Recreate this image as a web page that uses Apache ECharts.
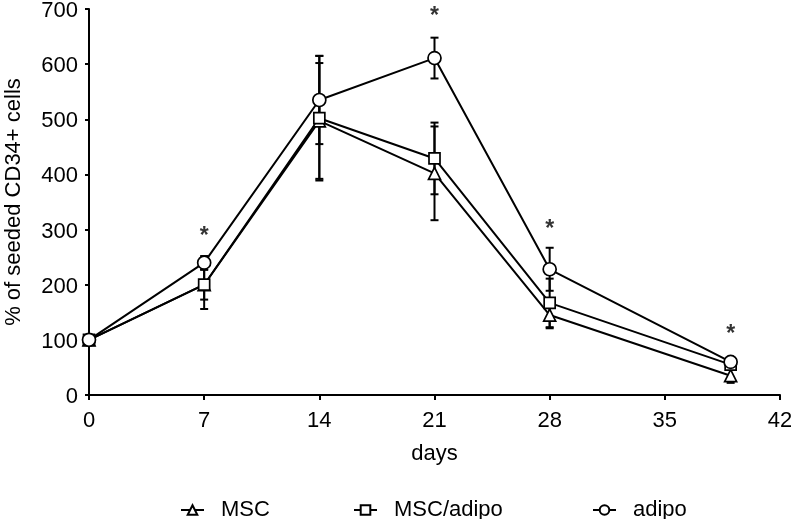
<!DOCTYPE html>
<html>
<head>
<meta charset="utf-8">
<script src="https://cdn.jsdelivr.net/npm/echarts@6/dist/echarts.min.js"></script>
<style>html,body{margin:0;padding:0;background:#fff}#c{width:791px;height:519px}</style>
</head>
<body>
<div id="c"></div>
<script>
const days = [0, 7, 14, 21, 28, 39];
const mscMean = [100, 200, 497, 402, 145, 35];
const mscErr = [0, 44, 105, 85, 24, 13];
const mscAdipoMean = [100, 200, 502, 429, 167, 55];
const mscAdipoErr = [0, 27, 113, 65, 44, 8];
const adipoMean = [100, 240, 535, 611, 228, 60];
const adipoErr = [0, 12, 80, 37, 39, 5];
const starDays = [7, 21, 28, 39];
const starValues = [288, 686, 299, 110];
const xTicks = [0, 7, 14, 21, 28, 35, 42];
const yTicks = [0, 100, 200, 300, 400, 500, 600, 700];

const FONT = 'Liberation Sans';
const FS = 22;
const chart = echarts.init(document.getElementById('c'), null, {renderer: 'canvas'});

function pairs(xs, ys) { return xs.map((x, i) => [x, ys[i]]); }
function errData(means, errs) { return days.map((d, i) => [d, means[i], errs[i]]); }

function errSeries(name, means, errs) {
  return {
    type: 'custom',
    name: name + ' err',
    z: 1,
    silent: true,
    data: errData(means, errs),
    renderItem: function (params, api) {
      const x = api.value(0), m = api.value(1), e = api.value(2);
      if (!e) return null;
      const top = api.coord([x, m + e]);
      const bot = api.coord([x, m - e]);
      const hw = 4;
      const st = {stroke: '#000', lineWidth: 2};
      return {
        type: 'group',
        children: [
          {type: 'line', shape: {x1: top[0], y1: top[1], x2: bot[0], y2: bot[1]}, style: st},
          {type: 'line', shape: {x1: top[0] - hw, y1: top[1], x2: top[0] + hw, y2: top[1]}, style: st},
          {type: 'line', shape: {x1: bot[0] - hw, y1: bot[1], x2: bot[0] + hw, y2: bot[1]}, style: st}
        ]
      };
    }
  };
}

function lineSeries(name, means, symbol, size) {
  return {
    type: 'line',
    name: name,
    z: 3,
    data: pairs(days, means),
    symbol: symbol,
    symbolSize: size,
    showAllSymbol: true,
    lineStyle: {color: '#000', width: 2},
    itemStyle: {color: '#fff', borderColor: '#000', borderWidth: 1.7},
    emphasis: {disabled: true}
  };
}

function legendAt(name, left) {
  return {
    data: [name],
    left: left,
    top: 494,
    itemWidth: 23,
    itemHeight: 12,
    textStyle: {fontFamily: FONT, fontSize: FS, color: '#000', padding: [0, 0, 0, 12]},
    itemGap: 0,
    selectedMode: false
  };
}

chart.setOption({
  animation: false,
  backgroundColor: '#fff',
  grid: {left: 89, right: 11, top: 9, bottom: 124, containLabel: false, outerBoundsMode: 'none'},
  legend: [
    legendAt('MSC', 175),
    legendAt('MSC/adipo', 348),
    legendAt('adipo', 587)
  ],
  xAxis: {
    type: 'value',
    min: 0, max: 42, interval: 7,
    name: 'days',
    nameLocation: 'middle',
    nameGap: 48,
    nameTextStyle: {fontFamily: FONT, fontSize: FS, color: '#000'},
    axisLine: {lineStyle: {color: '#000', width: 2}},
    axisTick: {show: true, length: 5, lineStyle: {color: '#000', width: 2}},
    axisLabel: {fontFamily: FONT, fontSize: FS, color: '#000', margin: 15,
      formatter: v => xTicks.includes(v) ? String(v) : ''},
    splitLine: {show: false}
  },
  yAxis: {
    type: 'value',
    min: 0, max: 700, interval: 100,
    name: '% of seeded CD34+ cells',
    nameLocation: 'middle',
    nameGap: 64,
    nameTextStyle: {fontFamily: FONT, fontSize: FS, color: '#000'},
    axisLine: {show: true, lineStyle: {color: '#000', width: 2}},
    axisTick: {show: true, length: 4, lineStyle: {color: '#000', width: 2}},
    axisLabel: {fontFamily: FONT, fontSize: FS, color: '#000', margin: 11,
      verticalAlign: 'top', lineHeight: 4,
      formatter: v => yTicks.includes(v) ? String(v) : ''},
    splitLine: {show: false}
  },
  series: [
    errSeries('MSC', mscMean, mscErr),
    errSeries('MSC/adipo', mscAdipoMean, mscAdipoErr),
    errSeries('adipo', adipoMean, adipoErr),
    lineSeries('MSC', mscMean, 'triangle', 12),
    lineSeries('MSC/adipo', mscAdipoMean, 'rect', 11),
    lineSeries('adipo', adipoMean, 'circle', 13),
    {
      type: 'scatter',
      name: 'stars',
      data: pairs(starDays, starValues),
      symbolSize: 1,
      itemStyle: {color: 'transparent'},
      silent: true,
      label: {show: true, position: 'inside', formatter: '*',
        fontFamily: FONT, fontSize: 23, fontWeight: 'bold', color: '#000'}
    }
  ]
});
</script>
</body>
</html>
